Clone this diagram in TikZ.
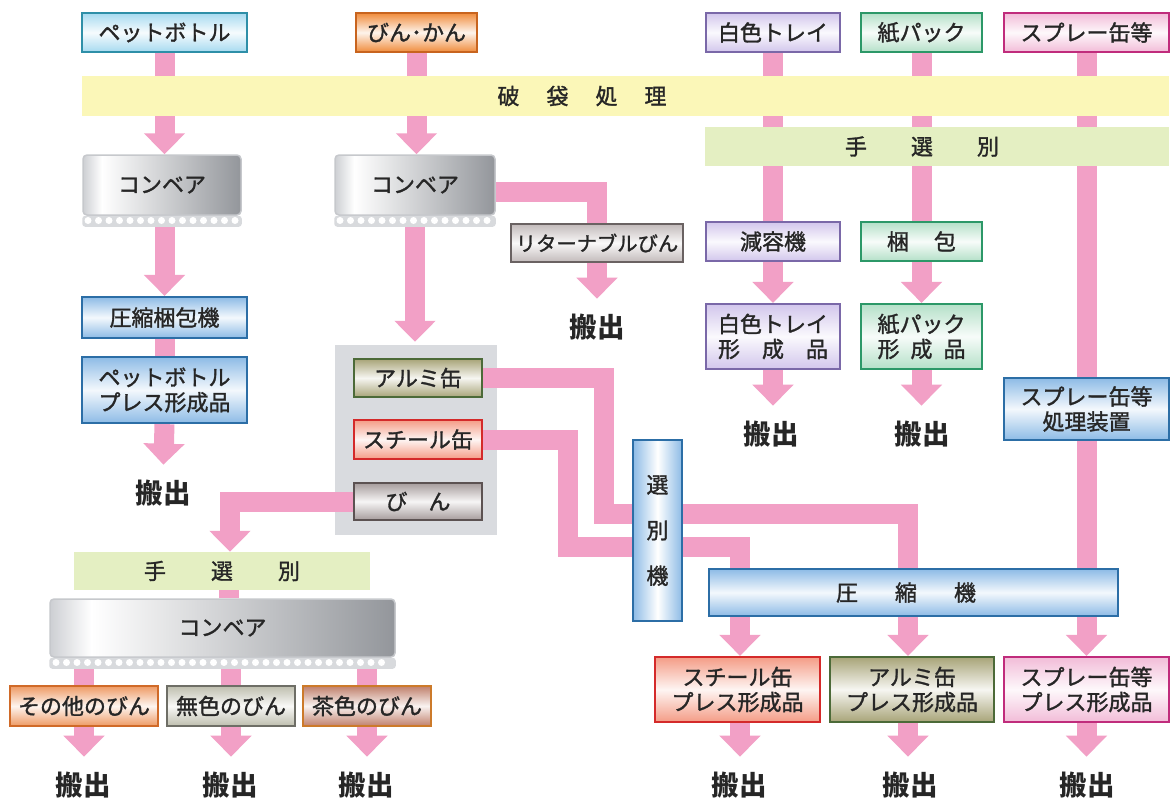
\documentclass[tikz,border=0pt]{standalone}
\usepackage{fontspec}
\newfontfamily\jp{Noto Sans CJK JP}
\newfontfamily\jpm{Noto Sans CJK JP}[FakeBold=1.4]
\usetikzlibrary{arrows.meta}
\definecolor{pipe}{HTML}{F2A0C6}
\definecolor{bandY}{HTML}{FBF7B8}
\definecolor{bandG}{HTML}{E4EFC2}
\definecolor{panelC}{HTML}{D9DBDF}
\definecolor{petB}{HTML}{2E8FA8}\definecolor{petF}{HTML}{A6DAF0}
\definecolor{blueB}{HTML}{2C6EA6}\definecolor{blueF}{HTML}{8DBBE6}
\definecolor{oraB}{HTML}{C8641E}\definecolor{oraF}{HTML}{F08C3C}
\definecolor{purB}{HTML}{7A68A8}\definecolor{purF}{HTML}{D2C6EC}
\definecolor{grnB}{HTML}{2C9868}\definecolor{grnF}{HTML}{B4E0C8}
\definecolor{magB}{HTML}{C02C7C}\definecolor{magF}{HTML}{F2BCD8}
\definecolor{retB}{HTML}{6A6262}\definecolor{retF}{HTML}{C2BABA}
\definecolor{olvB}{HTML}{4C6A38}\definecolor{olvF}{HTML}{A8A478}
\definecolor{redB}{HTML}{D42A2A}\definecolor{redF}{HTML}{F49C86}
\definecolor{binB}{HTML}{5C5252}\definecolor{binF}{HTML}{A69C9C}
\definecolor{othB}{HTML}{D06A28}\definecolor{othF}{HTML}{EE9A64}
\definecolor{clrB}{HTML}{6E6E66}\definecolor{clrF}{HTML}{BEBEAE}
\definecolor{brnB}{HTML}{CC7A2A}\definecolor{brnF}{HTML}{C0806C}
\definecolor{cvL}{HTML}{CDCFD3}\definecolor{cvR}{HTML}{93969B}
\definecolor{cvB}{HTML}{C6C8CC}\definecolor{cvS}{HTML}{D8DADD}
\pgfdeclarehorizontalshading{convsh}{100bp}{color(0bp)=(cvL); color(25bp)=(cvL); color(31bp)=(white); color(75bp)=(cvR); color(100bp)=(cvR)}
\pgfdeclarelayer{back}\pgfdeclarelayer{bg}
\pgfsetlayers{back,bg,main}
\tikzset{
  pipeline/.style={draw=pipe, line width=20pt},
  arr/.style={pipeline, -{Triangle[width=40pt,length=21pt]}},
  toout/.style={arr, shorten >=15pt},
  txt/.style={font=\jpm\fontsize{22}{25}\selectfont, text=black!85},
  box/.style 2 args={txt, draw=#1, line width=2.2pt, top color=#2, bottom color=#2, middle color=white!90!#2, inner sep=0pt, align=center},
  band/.style={txt, fill=#1, inner sep=0pt},
  conv/.style={txt, draw=cvB, line width=1.5pt, shading=convsh, rounded corners=4pt, inner sep=0pt},
  outlbl/.style={font=\jp\bfseries\fontsize{27.5}{30}\selectfont, text=black!85, inner sep=0pt},
}
\begin{document}
\begin{tikzpicture}[x=1pt,y=-1pt]
\useasboundingbox (0,0) rectangle (1170,798);
\begin{pgfonlayer}{back}
\fill[white] (0,0) rectangle (1170,798);
\node[fill=panelC, minimum width=162pt, minimum height=190pt, inner sep=0pt] (panel) at (416,440) {};
\end{pgfonlayer}
% top sources
\node[box={petB}{petF}, minimum width=165pt, minimum height=39pt] (pet) at (164.5,32.5) {ペットボトル};
\node[box={oraB}{oraF}, minimum width=121pt, minimum height=39pt] (binkan) at (416.5,32.5) {びん･かん};
\node[box={purB}{purF}, minimum width=134pt, minimum height=39pt] (tray) at (773,32.5) {白色トレイ};
\node[box={grnB}{grnF}, minimum width=121pt, minimum height=39pt] (pack) at (921.5,32.5) {紙パック};
\node[box={magB}{magF}, minimum width=165pt, minimum height=39pt] (spray) at (1086.5,32.5) {スプレー缶等};
% bands
\node[band=bandY, minimum width=1087pt, minimum height=40pt] (hatai) at (625.5,96) {破\hspace{27pt}袋\hspace{27pt}処\hspace{27pt}理\hspace{87pt}\mbox{}};
\node[band=bandG, minimum width=464pt, minimum height=39pt] (tesen) at (937,146.5) {手\hspace{44pt}選\hspace{44pt}別\hspace{30pt}\mbox{}};
% conveyors
\node[conv, minimum width=158pt, minimum height=60pt] (conv1) at (162,185) {コンベア};
\node[conv, minimum width=160pt, minimum height=60pt] (conv2) at (415,185) {コンベア};
% middle column boxes
\node[box={retB}{retF}, minimum width=172pt, minimum height=38pt, font=\jpm\fontsize{20.3}{25}\selectfont] (ret) at (597,243) {リターナブルびん};
\node[box={purB}{purF}, minimum width=134pt, minimum height=39pt] (genyo) at (773,241.5) {減容機};
\node[box={grnB}{grnF}, minimum width=121pt, minimum height=39pt] (konpo) at (921.5,241.5) {梱\hspace{25pt}包};
\node[box={purB}{purF}, minimum width=134pt, minimum height=65pt] (trayP) at (773,336.5) {白色トレイ\\形\hspace{22pt}成\hspace{22pt}品};
\node[box={grnB}{grnF}, minimum width=121pt, minimum height=65pt] (packP) at (921.5,336.5) {紙パック\\形\hspace{11pt}成\hspace{11pt}品};
\node[box={blueB}{blueF}, minimum width=165pt, minimum height=62pt] (sprayDev) at (1086.5,409) {スプレー缶等\\処理装置};
% left column
\node[box={blueB}{blueF}, minimum width=165pt, minimum height=41pt] (assy) at (164.5,317.5) {圧縮梱包機};
\node[box={blueB}{blueF}, minimum width=165pt, minimum height=66pt] (petP) at (164.5,390) {ペットボトル\\プレス形成品};
% panel contents
\node[box={olvB}{olvF}, minimum width=128pt, minimum height=38pt] (alumi) at (418,378) {アルミ缶};
\node[box={redB}{redF}, minimum width=128pt, minimum height=39pt] (steel) at (418,439.5) {スチール缶};
\node[box={binB}{binF}, minimum width=128pt, minimum height=37pt] (bin) at (418,501.5) {び\hspace{21pt}ん};
% sorter and press
\node[txt, draw=blueB, line width=2.2pt, left color=blueF, right color=blueF, middle color=white, inner sep=0pt, align=center, font=\jpm\fontsize{22}{45.5}\selectfont, minimum width=49pt, minimum height=181pt] (sorter) at (657.5,530.5) {選\\別\\機};
\node[box={blueB}{blueF}, minimum width=409pt, minimum height=47pt] (press) at (913.5,592.5) {圧\hspace{37pt}縮\hspace{37pt}機\hspace{15pt}\mbox{}};
\node[box={redB}{redF}, minimum width=165pt, minimum height=65pt] (steelP) at (737.5,689.5) {スチール缶\\プレス形成品};
\node[box={olvB}{olvF}, minimum width=164pt, minimum height=65pt] (alumiP) at (912,689.5) {アルミ缶\\プレス形成品};
\node[box={magB}{magF}, minimum width=165pt, minimum height=65pt] (sprayP) at (1086.5,689.5) {スプレー缶等\\プレス形成品};
% bottom-left
\node[band=bandG, minimum width=296pt, minimum height=38pt] (tesenL) at (222,571) {手\hspace{45pt}選\hspace{45pt}別};
\node[conv, minimum width=345pt, minimum height=58pt] (conv3) at (222.5,628) {コンベア};
\node[box={othB}{othF}, minimum width=148pt, minimum height=40pt] (other) at (84,706) {その他のびん};
\node[box={clrB}{clrF}, minimum width=128pt, minimum height=40pt] (clear) at (231,706) {無色のびん};
\node[box={brnB}{brnF}, minimum width=128pt, minimum height=40pt] (brown) at (367,706) {茶色のびん};
% conveyor roller strips
\fill[cvS, rounded corners=3pt] (conv1.south west) rectangle ([yshift=-11pt]conv1.south east);
\foreach \x in {88,98.5,...,236} \fill[white] (\x,220.5) circle[radius=3.5pt];
\fill[cvS, rounded corners=3pt] (conv2.south west) rectangle ([yshift=-11pt]conv2.south east);
\foreach \x in {340,350.5,...,490} \fill[white] (\x,220.5) circle[radius=3.5pt];
\fill[cvS, rounded corners=3pt] (conv3.south west) rectangle ([yshift=-11pt]conv3.south east);
\foreach \x in {56,66.5,...,390} \fill[white] (\x,662.5) circle[radius=3.5pt];
% outputs
\node[outlbl] (o1) at (163,493) {搬出};
\node[outlbl] (oR) at (597,327) {搬出};
\node[outlbl] (oT) at (771,434) {搬出};
\node[outlbl] (oP) at (922,434) {搬出};
\node[outlbl] (oO) at (83,785) {搬出};
\node[outlbl] (oC) at (230,785) {搬出};
\node[outlbl] (oB) at (366,785) {搬出};
\node[outlbl] (oS) at (739,785) {搬出};
\node[outlbl] (oA) at (910,785) {搬出};
\node[outlbl] (oX) at (1087,785) {搬出};
% bend points
\coordinate (a1) at (604,514);
\coordinate (a2) at (908,514);
\coordinate (s1) at (568,547);
\coordinate (s2) at (740,547);
\coordinate (b1) at ([xshift=8pt]tesenL.north);
\coordinate (b2) at ([xshift=7pt]tesenL.south);
% pipes
\begin{pgfonlayer}{bg}
\draw[arr] (pet.south) -- (pet.south |- conv1.north);
\draw[arr] (binkan.south) -- (binkan.south |- conv2.north);
\draw[arr] (assy.north |- conv1.south) -- (assy.north);
\draw[pipeline] (assy.south) -- (petP.north);
\draw[toout] (petP.south) -- (o1.north);
\draw[arr, shorten >=3pt] (conv2.south) -- (conv2.south |- panel.north);
\draw[pipeline] ([yshift=-7pt]conv2.east) -| (ret.north);
\draw[toout] (ret.south) -- (ret.south |- oR.north);
\draw[pipeline] (tray.south) -- (genyo.north);
\draw[arr] (genyo.south) -- (trayP.north);
\draw[toout] (trayP.south) -- (trayP.south |- oT.north);
\draw[pipeline] (pack.south) -- (konpo.north);
\draw[arr] (konpo.south) -- (packP.north);
\draw[toout] (packP.south) -- (packP.south |- oP.north);
\draw[pipeline] (spray.south) -- (sprayDev.north);
\draw[pipeline] (sprayDev.south) -- (sprayDev.south |- press.north);
\draw[arr] (sprayP.north |- press.south) -- (sprayP.north);
\draw[toout] (sprayP.south) -- (sprayP.south |- oX.north);
\draw[pipeline] (alumi.east) -| (a1) -- (a2) -- (a2 |- press.north);
\draw[arr] (a2 |- press.south) -- (a2 |- alumiP.north);
\draw[toout] (a2 |- alumiP.south) -- (a2 |- oA.north);
\draw[pipeline] (steel.east) -| (s1) -- (s2) -- (s2 |- press.north);
\draw[arr] (s2 |- press.south) -- (s2 |- steelP.north);
\draw[toout] (s2 |- steelP.south) -- (s2 |- oS.north);
\draw[arr] (bin.west) -| (b1);
\draw[pipeline] (b2) -- (b2 |- conv3.north);
\draw[pipeline] (other.north |- conv3.south) -- (other.north);
\draw[pipeline] (clear.north |- conv3.south) -- (clear.north);
\draw[pipeline] (brown.north |- conv3.south) -- (brown.north);
\draw[toout] (other.south) -- (other.south |- oO.north);
\draw[toout] (clear.south) -- (clear.south |- oC.north);
\draw[toout] (brown.south) -- (brown.south |- oB.north);
\end{pgfonlayer}
\end{tikzpicture}
\end{document}
